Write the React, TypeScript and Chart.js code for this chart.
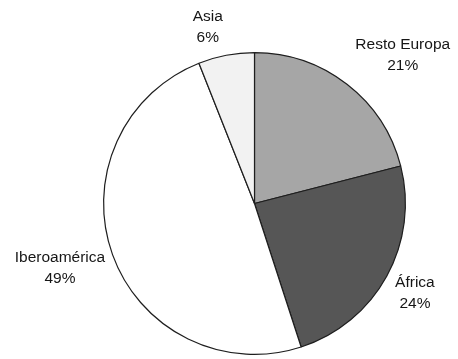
import React, { useEffect, useRef } from "react";
import { Chart, registerables } from "chart.js";

Chart.register(...registerables);

// Regional breakdown (percent)
const regions = ["Resto Europa", "África", "Iberoamérica", "Asia"];
const shares = [21, 24, 49, 6];
const sliceColors = ["#a6a6a6", "#565656", "#ffffff", "#f2f2f2"];

// Label placement: radial anchor factor and per-label nudges in px
const LABEL_RADIUS_FACTOR = 1.3;
const labelNudges: [number, number][] = [
  [28, 7],
  [-11.5, -4.5],
  [-10, -1.5],
  [-10, 16],
];
const LINE_HEIGHT = 21;

const outsideLabels = {
  id: "outsideLabels",
  afterDatasetsDraw(chart: any) {
    const { ctx } = chart;
    const meta = chart.getDatasetMeta(0);
    const values = chart.data.datasets[0].data as number[];
    const total = values.reduce((a, b) => a + b, 0);
    ctx.save();
    ctx.font = "15.5px 'Liberation Sans', Arial, sans-serif";
    ctx.fillStyle = "#161616";
    ctx.textAlign = "center";
    ctx.textBaseline = "middle";
    meta.data.forEach((arc: any, i: number) => {
      const { x, y, startAngle, endAngle, outerRadius } = arc.getProps(
        ["x", "y", "startAngle", "endAngle", "outerRadius"],
        true
      );
      const mid = (startAngle + endAngle) / 2;
      const d = outerRadius * LABEL_RADIUS_FACTOR;
      const cx = x + Math.cos(mid) * d + labelNudges[i][0];
      const cy = y + Math.sin(mid) * d + labelNudges[i][1];
      const pct = Math.round((values[i] / total) * 100) + "%";
      ctx.fillText(chart.data.labels[i], cx, cy - LINE_HEIGHT / 2);
      ctx.fillText(pct, cx, cy + LINE_HEIGHT / 2);
    });
    ctx.restore();
  },
};

export default function App() {
  const canvasRef = useRef<HTMLCanvasElement | null>(null);

  useEffect(() => {
    document.body.style.margin = "0";
    const canvas = canvasRef.current;
    if (!canvas) return;
    const chart = new Chart(canvas, {
      type: "pie",
      data: {
        labels: regions,
        datasets: [
          {
            data: shares,
            backgroundColor: sliceColors,
            borderColor: "#1e1e1e",
            borderWidth: 1.2,
          },
        ],
      },
      options: {
        responsive: false,
        animation: false,
        events: [],
        layout: { padding: { top: 52, bottom: 4, left: 80, right: 29 } },
        plugins: {
          legend: { display: false },
          tooltip: { enabled: false },
        },
      },
      plugins: [outsideLabels],
    });
    return () => chart.destroy();
  }, []);

  return (
    <div style={{ width: 458, height: 359, background: "#ffffff" }}>
      <canvas ref={canvasRef} width={458} height={359} style={{ display: "block" }} />
    </div>
  );
}
